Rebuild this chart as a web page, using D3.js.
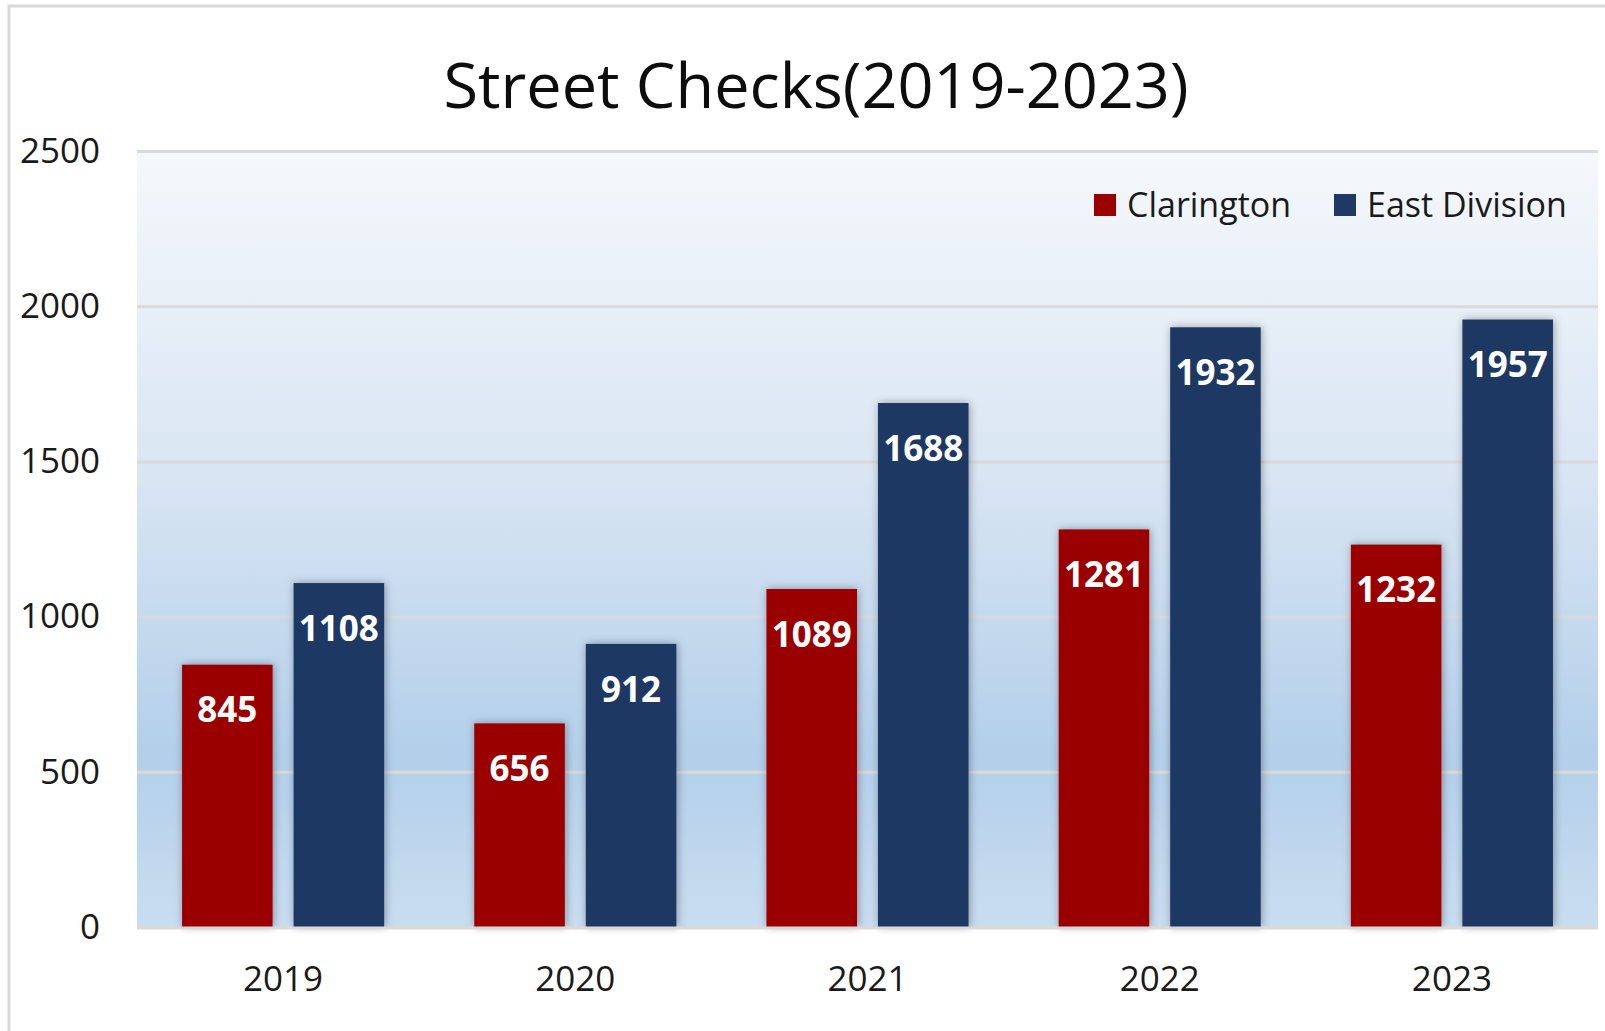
<!DOCTYPE html>
<html>
<head>
<meta charset="utf-8">
<script src="https://cdn.jsdelivr.net/npm/d3@7"></script>
<style>
  body { margin: 0; background: #fff; }
  svg { display: block; font-family: "Open Sans", "Noto Sans", sans-serif; }
</style>
</head>
<body>
<main></main>
<script>
const years = ["2019", "2020", "2021", "2022", "2023"];
const seriesNames = ["Clarington", "East Division"];
const clarington = [845, 656, 1089, 1281, 1232];
const eastDivision = [1108, 912, 1688, 1932, 1957];
const yTicks = [0, 500, 1000, 1500, 2000, 2500];
const colors = ["#9b0000", "#1f3864"];

const W = 1605, H = 1031;
const plot = { left: 137, right: 1598, top: 151, bottom: 927 };

const svg = d3.select("main").append("svg")
  .attr("width", W).attr("height", H).attr("viewBox", `0 0 ${W} ${H}`);

const defs = svg.append("defs");
const grad = defs.append("linearGradient").attr("id", "bg")
  .attr("x1", 0).attr("y1", 0).attr("x2", 0).attr("y2", 1);
grad.append("stop").attr("offset", "0%").attr("stop-color", "#f5f8fc");
grad.append("stop").attr("offset", "40%").attr("stop-color", "#dae6f3");
grad.append("stop").attr("offset", "78%").attr("stop-color", "#b3cfea");
grad.append("stop").attr("offset", "100%").attr("stop-color", "#c9ddf0");

const shadow = defs.append("filter").attr("id", "shadow")
  .attr("x", "-20%").attr("y", "-10%").attr("width", "140%").attr("height", "120%");
shadow.append("feDropShadow").attr("dx", 1).attr("dy", 0)
  .attr("stdDeviation", 4).attr("flood-color", "#000").attr("flood-opacity", 0.35);

// outer chart border (left/top visible)
svg.append("rect")
  .attr("x", 9).attr("y", 6).attr("width", W + 20).attr("height", H + 20)
  .attr("fill", "none").attr("stroke", "#d9d9d9").attr("stroke-width", 3);

// plot background
svg.append("rect")
  .attr("x", plot.left).attr("y", plot.top)
  .attr("width", plot.right - plot.left).attr("height", plot.bottom - plot.top)
  .attr("fill", "url(#bg)");

const x = d3.scaleBand().domain(years).range([plot.left, plot.right]).padding(0);
const xs = d3.scaleBand().domain(seriesNames).range([0, x.bandwidth()])
  .paddingInner(0.188).paddingOuter(0.404);
const y = d3.scaleLinear().domain([0, 2500]).range([plot.bottom, plot.top]);

// gridlines + y labels
const yAxis = svg.append("g")
  .attr("transform", `translate(${plot.left},0)`)
  .call(d3.axisLeft(y).tickValues(yTicks).tickFormat(d3.format("d"))
    .tickSize(-(plot.right - plot.left)).tickPadding(37));
yAxis.select(".domain").remove();
yAxis.selectAll(".tick line").attr("stroke", "#d9d9d9").attr("stroke-width", 3);
yAxis.selectAll(".tick text")
  .attr("font-size", 35).attr("fill", "#1a1a1a")
  .attr("font-family", "'Open Sans', sans-serif");

// bars
const data = years.map((yr, i) => ({ year: yr, values: [clarington[i], eastDivision[i]] }));
const groups = svg.append("g").selectAll("g")
  .data(data)
  .join("g")
  .attr("transform", d => `translate(${x(d.year)},0)`);

const bars = groups.selectAll("g")
  .data(d => d.values.map((v, j) => ({ name: seriesNames[j], value: v, color: colors[j] })))
  .join("g");

bars.append("rect")
  .attr("x", d => xs(d.name))
  .attr("y", d => y(d.value))
  .attr("width", xs.bandwidth())
  .attr("height", d => y(0) - y(d.value))
  .attr("fill", d => d.color)
  .attr("filter", "url(#shadow)");

bars.append("text")
  .attr("x", d => xs(d.name) + xs.bandwidth() / 2)
  .attr("y", d => y(d.value) + 45)
  .attr("dy", "0.36em")
  .attr("text-anchor", "middle")
  .attr("font-size", 35)
  .attr("font-weight", "bold")
  .attr("fill", "#fff")
  .text(d => d.value);

// baseline
svg.append("line")
  .attr("x1", plot.left).attr("x2", plot.right)
  .attr("y1", y(0) + 1).attr("y2", y(0) + 1)
  .attr("stroke", "#d9d9d9").attr("stroke-width", 3);

// x labels
const xAxis = svg.append("g")
  .attr("transform", `translate(0,${plot.bottom})`)
  .call(d3.axisBottom(x).tickSize(0).tickPadding(39));
xAxis.select(".domain").remove();
xAxis.selectAll(".tick text")
  .attr("font-size", 35).attr("fill", "#1a1a1a")
  .attr("font-family", "'Open Sans', sans-serif");

// title
svg.append("text")
  .attr("x", 816).attr("y", 108)
  .attr("text-anchor", "middle")
  .attr("font-size", 63)
  .attr("fill", "#0d0d0d")
  .text("Street Checks(2019-2023)");

// legend
const legendX = [1094, 1334];
const legend = svg.append("g").selectAll("g")
  .data(seriesNames)
  .join("g")
  .attr("transform", (d, i) => `translate(${legendX[i]},194)`);
legend.append("rect")
  .attr("width", 22).attr("height", 22)
  .attr("fill", (d, i) => colors[i]);
legend.append("text")
  .attr("x", 33).attr("y", 11).attr("dy", "0.36em")
  .attr("font-size", 34).attr("fill", "#1a1a1a")
  .text(d => d);
</script>
</body>
</html>
